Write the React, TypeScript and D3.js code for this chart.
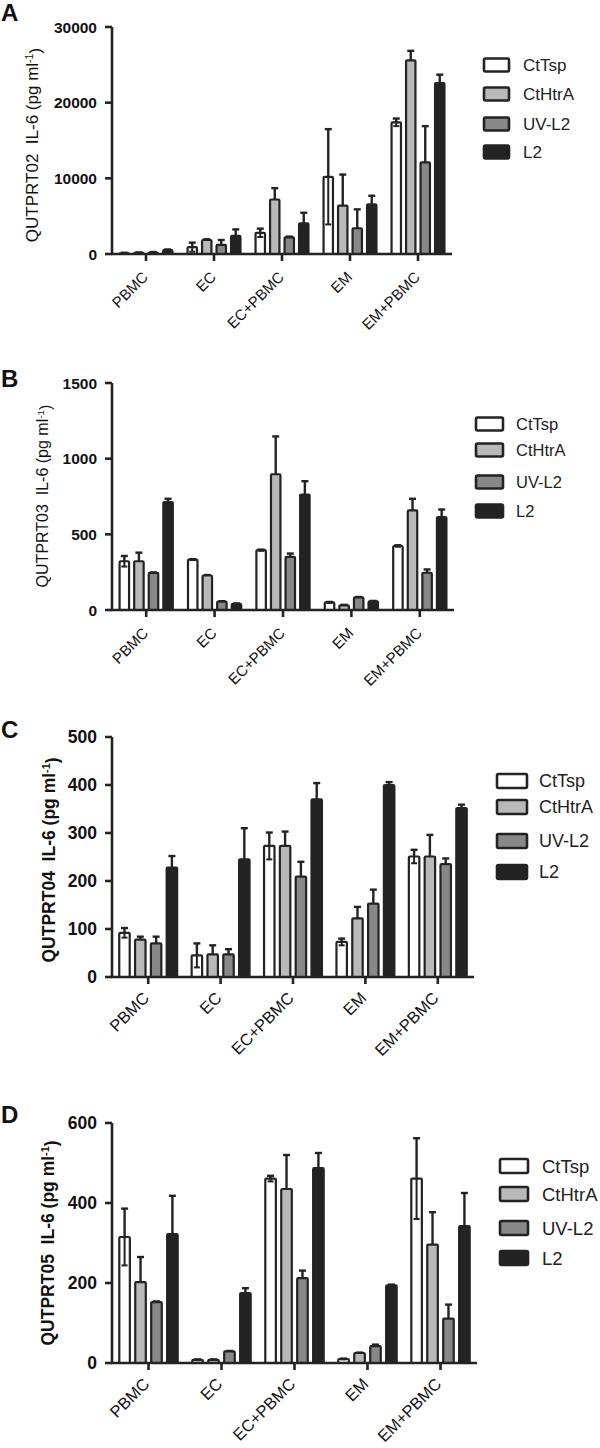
import React from "react";
import * as d3 from "d3";

const categories = ["PBMC", "EC", "EC+PBMC", "EM", "EM+PBMC"];
const seriesNames = ["CtTsp", "CtHtrA", "UV-L2", "L2"];

// Panel A (QUTPRT02)
const aCtTsp = [100, 900, 2800, 10200, 17400];
const aCtTspErr = [60, 600, 550, 6300, 500];
const aCtHtrA = [150, 1850, 7200, 6400, 25600];
const aCtHtrAErr = [60, 100, 1500, 4100, 1250];
const aUVL2 = [200, 1200, 2200, 3400, 12100];
const aUVL2Err = [60, 650, 100, 2500, 4800];
const aL2 = [500, 2400, 4050, 6550, 22600];
const aL2Err = [100, 850, 1400, 1150, 1100];
const aTicks = [0, 10000, 20000, 30000];

// Panel B (QUTPRT03)
const bCtTsp = [322, 333, 395, 50, 423];
const bCtTspErr = [35, 3, 4, 3, 5];
const bCtHtrA = [322, 228, 897, 31, 658];
const bCtHtrAErr = [57, 3, 250, 3, 77];
const bUVL2 = [245, 55, 351, 83, 246];
const bUVL2Err = [3, 3, 22, 3, 22];
const bL2 = [713, 40, 763, 57, 614];
const bL2Err = [22, 3, 88, 3, 50];
const bTicks = [0, 500, 1000, 1500];

// Panel C (QUTPRT04)
const cCtTsp = [92, 45, 273, 73, 251];
const cCtTspErr = [10, 25, 28, 7, 14];
const cCtHtrA = [78, 47, 273, 122, 251];
const cCtHtrAErr = [6, 19, 30, 24, 45];
const cUVL2 = [70, 47, 209, 153, 235];
const cUVL2Err = [14, 11, 31, 29, 12];
const cL2 = [228, 245, 370, 400, 352];
const cL2Err = [24, 65, 34, 6, 7];
const cTicks = [0, 100, 200, 300, 400, 500];

// Panel D (QUTPRT05)
const dCtTsp = [315, 8, 461, 10, 461];
const dCtTspErr = [71, 1, 7, 1, 101];
const dCtHtrA = [202, 8, 435, 25, 296];
const dCtHtrAErr = [63, 1, 85, 1, 81];
const dUVL2 = [152, 29, 212, 42, 111];
const dUVL2Err = [2, 1, 19, 4, 35];
const dL2 = [322, 175, 487, 194, 342];
const dL2Err = [96, 12, 38, 2, 83];
const dTicks = [0, 200, 400, 600];

const fills = ["#ffffff", "#b9b9b9", "#888888", "#232323"];
const ink = "#232323";
const FONT = "Liberation Sans, Arial, sans-serif";

type PanelCfg = {
  letter: string;
  strain: string;
  values: number[][];
  errors: number[][];
  ticks: number[];
  x0: number;
  x1: number;
  yTop: number;
  yBot: number;
  groupPad: number;
  tickFont: number;
  catFont: number;
  catDx: number;
  catDy: number;
  titleFont: number;
  titleBold: boolean;
  titleX: number;
  titleY: number;
  letterY: number;
  legendX: number;
  legendW: number;
  legendH: number;
  legendTextX: number;
  legendRows: number[];
  legendFont: number;
};

const panels: PanelCfg[] = [
  {
    letter: "A", strain: "QUTPRT02",
    values: [aCtTsp, aCtHtrA, aUVL2, aL2],
    errors: [aCtTspErr, aCtHtrAErr, aUVL2Err, aL2Err],
    ticks: aTicks, x0: 112, x1: 452, yTop: 27, yBot: 254, groupPad: 0.19,
    tickFont: 15.5, catFont: 15, catDx: 3, catDy: 24,
    titleFont: 17, titleBold: false, titleX: 38, titleY: 145, letterY: 21,
    legendX: 484, legendW: 25, legendH: 13, legendTextX: 523, legendRows: [65, 94, 124, 152], legendFont: 17,
  },
  {
    letter: "B", strain: "QUTPRT03",
    values: [bCtTsp, bCtHtrA, bUVL2, bL2],
    errors: [bCtTspErr, bCtHtrAErr, bUVL2Err, bL2Err],
    ticks: bTicks, x0: 112, x1: 454, yTop: 383, yBot: 610, groupPad: 0.19,
    tickFont: 15.5, catFont: 15, catDx: 3, catDy: 24,
    titleFont: 16, titleBold: false, titleX: 48, titleY: 496, letterY: 387,
    legendX: 476, legendW: 27, legendH: 13, legendTextX: 516, legendRows: [424, 450, 482, 511], legendFont: 16.5,
  },
  {
    letter: "C", strain: "QUTPRT04",
    values: [cCtTsp, cCtHtrA, cUVL2, cL2],
    errors: [cCtTspErr, cCtHtrAErr, cUVL2Err, cL2Err],
    ticks: cTicks, x0: 112, x1: 474, yTop: 737, yBot: 977, groupPad: 0.17,
    tickFont: 17.5, catFont: 16.5, catDx: 2, catDy: 22,
    titleFont: 17.5, titleBold: true, titleX: 55, titleY: 860, letterY: 738,
    legendX: 497, legendW: 30, legendH: 14, legendTextX: 539, legendRows: [781, 807, 841, 872], legendFont: 18,
  },
  {
    letter: "D", strain: "QUTPRT05",
    values: [dCtTsp, dCtHtrA, dUVL2, dL2],
    errors: [dCtTspErr, dCtHtrAErr, dUVL2Err, dL2Err],
    ticks: dTicks, x0: 112, x1: 477, yTop: 1123, yBot: 1363, groupPad: 0.17,
    tickFont: 17.5, catFont: 16.5, catDx: 2, catDy: 22,
    titleFont: 17.5, titleBold: true, titleX: 54, titleY: 1243, letterY: 1123,
    legendX: 500, legendW: 28, legendH: 14, legendTextX: 542, legendRows: [1166, 1194, 1228, 1258], legendFont: 18.5,
  },
];

function Panel({ p }: { p: PanelCfg }) {
  const yMax = p.ticks[p.ticks.length - 1];
  const y = d3.scaleLinear().domain([0, yMax]).range([p.yBot, p.yTop]);
  const x = d3
    .scaleBand<string>()
    .domain(categories)
    .range([p.x0, p.x1])
    .paddingInner(p.groupPad)
    .paddingOuter(p.groupPad / 2);
  const xs = d3
    .scaleBand<string>()
    .domain(seriesNames)
    .range([0, x.bandwidth()])
    .paddingInner(0.2)
    .paddingOuter(0);
  const bw = xs.bandwidth();
  const sw = 2.2;
  const cap = 3.5;

  const marks: React.ReactNode[] = [];
  categories.forEach((c, ci) => {
    seriesNames.forEach((s, si) => {
      const v = p.values[si][ci];
      const e = p.errors[si][ci];
      const bx = (x(c) as number) + (xs(s) as number);
      const cx = bx + bw / 2;
      const yv = y(v);
      const ye = y(v + e);
      if (e > 0) {
        marks.push(
          <g key={`e${ci}-${si}`} stroke={ink} strokeWidth={2.4}>
            <line x1={cx} x2={cx} y1={yv} y2={ye} />
            <line x1={cx - cap} x2={cx + cap} y1={ye} y2={ye} />
          </g>
        );
      }
      marks.push(
        <rect
          key={`b${ci}-${si}`}
          x={bx + sw / 2}
          y={yv}
          width={bw - sw}
          height={Math.max(0, p.yBot - yv)}
          fill={fills[si]}
          stroke={ink}
          strokeWidth={sw}
          rx={1}
        />
      );
      if (si === 0 && e > 0) {
        const yl = y(Math.max(0, v - e));
        marks.push(
          <g key={`l${ci}-${si}`} stroke={ink} strokeWidth={2}>
            <line x1={cx} x2={cx} y1={yv} y2={yl} />
            <line x1={cx - cap + 0.5} x2={cx + cap - 0.5} y1={yl} y2={yl} />
          </g>
        );
      }
    });
  });

  const tickFmt = d3.format("d");

  return (
    <g>
      <text x={1} y={p.letterY} fontFamily={FONT} fontWeight="bold" fontSize={24} fill="#111">
        {p.letter}
      </text>
      {marks}
      <line x1={p.x0} x2={p.x0} y1={p.yTop} y2={p.yBot + 1} stroke={ink} strokeWidth={2.6} />
      {p.ticks.map((t) => (
        <g key={`t${t}`}>
          <line x1={p.x0 - 7} x2={p.x0} y1={y(t)} y2={y(t)} stroke={ink} strokeWidth={2.6} />
          <text
            x={p.x0 - 15}
            y={y(t)}
            dy="0.36em"
            textAnchor="end"
            fontFamily={FONT}
            fontWeight="bold"
            fontSize={p.tickFont}
            fill="#111"
          >
            {tickFmt(t)}
          </text>
        </g>
      ))}
      <line x1={p.x0 - 1} x2={p.x1} y1={p.yBot} y2={p.yBot} stroke={ink} strokeWidth={2.6} />
      {categories.map((c) => {
        const cx = (x(c) as number) + x.bandwidth() / 2;
        return (
          <g key={`c${c}`}>
            <line x1={cx} x2={cx} y1={p.yBot} y2={p.yBot + 7} stroke={ink} strokeWidth={2.6} />
            <text
              transform={`translate(${cx + p.catDx},${p.yBot + p.catDy}) rotate(-45)`}
              textAnchor="end"
              fontFamily={FONT}
              fontSize={p.catFont}
              fill="#111"
            >
              {c}
            </text>
          </g>
        );
      })}
      <text
        transform={`translate(${p.titleX},${p.titleY}) rotate(-90)`}
        textAnchor="middle"
        fontFamily={FONT}
        fontWeight={p.titleBold ? "bold" : "normal"}
        fontSize={p.titleFont}
        fill="#111"
      >
        {p.strain}
        {"\u00a0 IL-6 (pg ml"}
        <tspan dy="-0.45em" fontSize={p.titleFont * 0.62}>
          -1
        </tspan>
        <tspan dy="0.45em">)</tspan>
      </text>
      {seriesNames.map((s, si) => (
        <g key={`lg${s}`}>
          <rect
            x={p.legendX}
            y={p.legendRows[si] - p.legendH / 2}
            width={p.legendW}
            height={p.legendH}
            fill={fills[si]}
            stroke={ink}
            strokeWidth={2.6}
            rx={1.5}
          />
          <text
            x={p.legendTextX}
            y={p.legendRows[si]}
            dy="0.36em"
            fontFamily={FONT}
            fontSize={p.legendFont}
            fill="#222"
          >
            {s}
          </text>
        </g>
      ))}
    </g>
  );
}

export default function App() {
  return (
    <svg
      width={600}
      height={1448}
      viewBox="0 0 600 1448"
      style={{ position: "absolute", left: 0, top: 0, background: "#fff" }}
    >
      <rect x={0} y={0} width={600} height={1448} fill="#fff" />
      {panels.map((p) => (
        <Panel key={p.letter} p={p} />
      ))}
    </svg>
  );
}
